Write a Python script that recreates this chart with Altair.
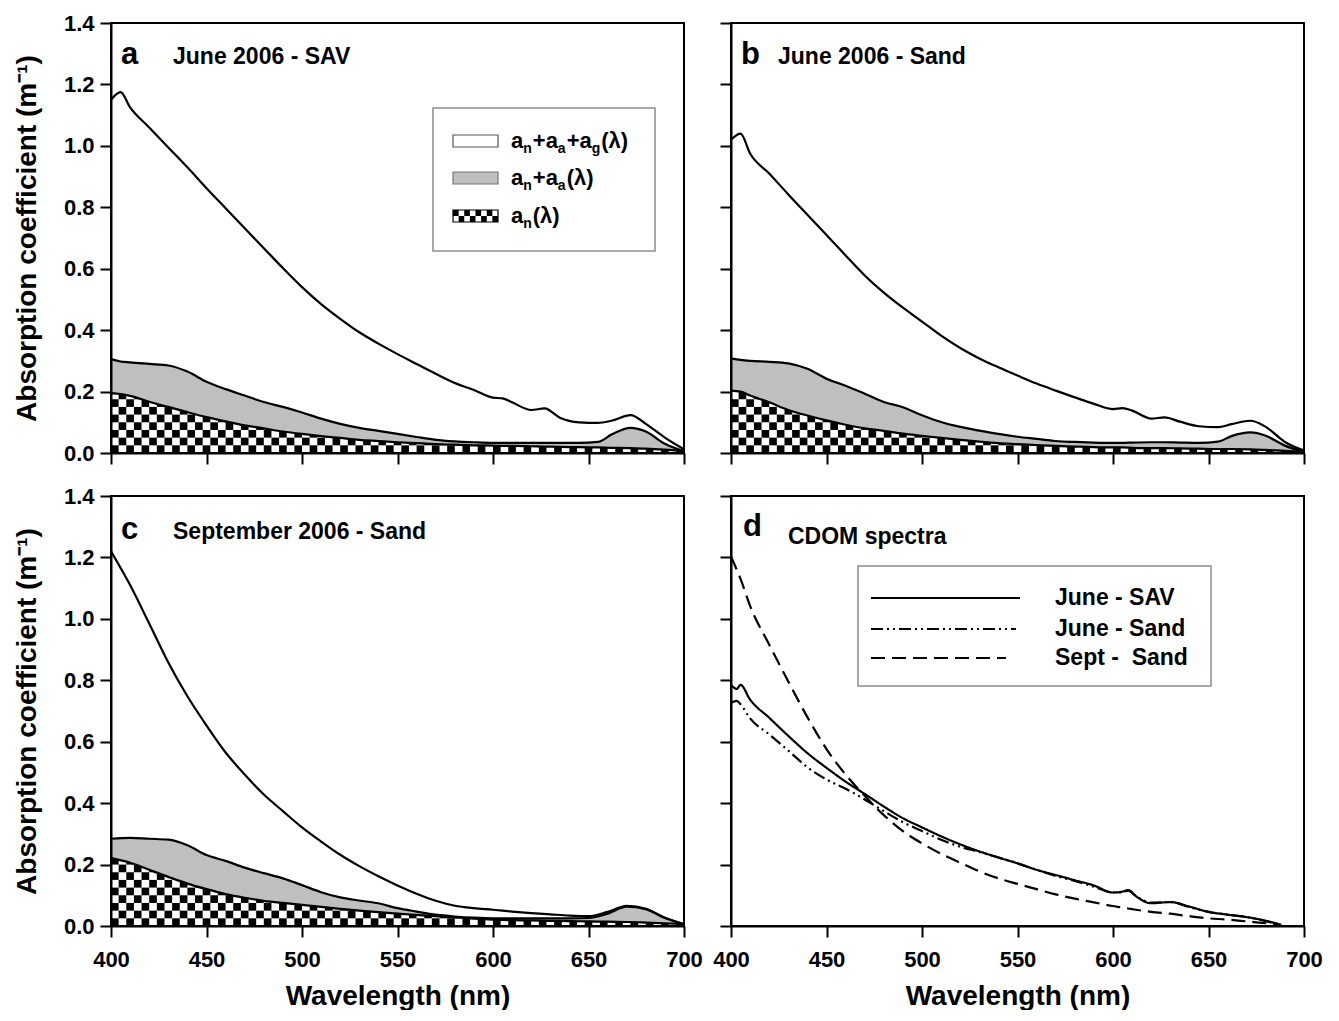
import altair as alt
import numpy as np
import pandas as pd

FONT = "Liberation Sans, Arial, Helvetica, sans-serif"
W, H = 573, 430
YMAX = 1.4
GRAY = "#bfbfbf"
LW = 2.2

# ---------------- data ----------------
wl_ab = [400, 405, 410, 420, 430, 440, 450, 460, 470, 480, 490, 500, 510, 520, 530, 540,
         550, 560, 570, 580, 590, 600, 605, 610, 620, 627, 635, 645, 655, 662, 672, 680, 690, 700]

a_total = [1.15, 1.175, 1.125, 1.06, 0.995, 0.93, 0.862, 0.797, 0.732, 0.667, 0.602, 0.54, 0.485, 0.437,
           0.393, 0.356, 0.322, 0.29, 0.258, 0.228, 0.205, 0.18, 0.178, 0.165, 0.14, 0.145, 0.115, 0.10,
           0.098, 0.105, 0.123, 0.095, 0.05, 0.012]
a_napa = [0.306, 0.298, 0.295, 0.29, 0.285, 0.265, 0.232, 0.208, 0.187, 0.166, 0.15, 0.132, 0.112, 0.095,
          0.082, 0.072, 0.062, 0.052, 0.043, 0.038, 0.035, 0.033, 0.033, 0.033, 0.033, 0.033, 0.033, 0.033,
          0.036, 0.06, 0.082, 0.07, 0.03, 0.006]
a_n = [0.195, 0.192, 0.186, 0.167, 0.15, 0.133, 0.117, 0.103, 0.09, 0.08, 0.07, 0.062, 0.055, 0.049,
       0.043, 0.039, 0.035, 0.032, 0.029, 0.027, 0.025, 0.024, 0.023, 0.023, 0.022, 0.021, 0.020, 0.019,
       0.018, 0.017, 0.016, 0.014, 0.011, 0.006]

b_total = [1.02, 1.04, 0.975, 0.91, 0.842, 0.776, 0.71, 0.643, 0.578, 0.522, 0.473, 0.428, 0.382, 0.342,
           0.308, 0.279, 0.252, 0.226, 0.203, 0.181, 0.16, 0.143, 0.146, 0.138, 0.112, 0.116, 0.102, 0.087,
           0.084, 0.094, 0.105, 0.085, 0.036, 0.008]
b_napa = [0.308, 0.303, 0.30, 0.297, 0.292, 0.274, 0.242, 0.219, 0.193, 0.166, 0.149, 0.123, 0.101, 0.085,
          0.073, 0.062, 0.053, 0.046, 0.039, 0.036, 0.034, 0.033, 0.033, 0.034, 0.035, 0.035, 0.034, 0.033,
          0.037, 0.055, 0.067, 0.056, 0.024, 0.004]
b_n = [0.203, 0.20, 0.187, 0.165, 0.14, 0.122, 0.106, 0.092, 0.08, 0.072, 0.063, 0.056, 0.049, 0.043,
       0.037, 0.032, 0.029, 0.026, 0.023, 0.021, 0.019, 0.018, 0.018, 0.017, 0.016, 0.016, 0.015, 0.014,
       0.013, 0.013, 0.012, 0.010, 0.007, 0.004]

wl_c = [400, 410, 420, 430, 440, 450, 460, 470, 480, 490, 500, 510, 520, 530, 540, 550, 560, 570,
        580, 590, 600, 610, 620, 630, 640, 650, 660, 670, 680, 690, 700]
c_total = [1.22, 1.11, 0.985, 0.858, 0.748, 0.653, 0.565, 0.493, 0.428, 0.374, 0.321, 0.275, 0.232, 0.195,
           0.162, 0.132, 0.105, 0.082, 0.066, 0.058, 0.053, 0.047, 0.042, 0.038, 0.034, 0.032, 0.046, 0.066,
           0.056, 0.026, 0.006]
c_napa = [0.284, 0.287, 0.284, 0.281, 0.263, 0.231, 0.212, 0.19, 0.172, 0.155, 0.133, 0.11, 0.093, 0.083,
          0.074, 0.058, 0.047, 0.037, 0.031, 0.027, 0.025, 0.025, 0.025, 0.025, 0.025, 0.026, 0.04, 0.063,
          0.055, 0.027, 0.006]
c_n = [0.221, 0.206, 0.183, 0.16, 0.138, 0.12, 0.104, 0.092, 0.082, 0.075, 0.069, 0.062, 0.056, 0.05,
       0.045, 0.04, 0.036, 0.032, 0.028, 0.024, 0.021, 0.019, 0.018, 0.017, 0.016, 0.015, 0.014, 0.013,
       0.011, 0.009, 0.006]

wl_d = [400, 403, 405, 410, 420, 430, 440, 450, 460, 470, 480, 490, 500, 510, 520, 530, 540, 550,
        560, 570, 580, 590, 600, 605, 608, 612, 620, 630, 640, 650, 660, 670, 680, 688]
d_june_sav = [0.785, 0.772, 0.785, 0.737, 0.678, 0.619, 0.563, 0.515, 0.47, 0.43, 0.389, 0.351, 0.321,
              0.292, 0.266, 0.243, 0.223, 0.204, 0.183, 0.166, 0.149, 0.132, 0.109, 0.112, 0.117, 0.097,
              0.074, 0.078, 0.063, 0.046, 0.037, 0.029, 0.017, 0.004]
d_june_sand = [0.727, 0.733, 0.722, 0.676, 0.624, 0.571, 0.517, 0.477, 0.447, 0.412, 0.374, 0.338, 0.309,
               0.281, 0.258, 0.241, 0.223, 0.204, 0.183, 0.163, 0.147, 0.128, 0.109, 0.11, 0.115, 0.098,
               0.076, 0.078, 0.062, 0.046, 0.037, 0.029, 0.016, 0.003]
d_sept_sand = [1.203, 1.16, 1.13, 1.042, 0.916, 0.796, 0.68, 0.576, 0.493, 0.424, 0.361, 0.309, 0.269,
               0.235, 0.206, 0.178, 0.155, 0.137, 0.12, 0.103, 0.089, 0.077, 0.065, 0.06, 0.057, 0.053,
               0.046, 0.04, 0.032, 0.025, 0.021, 0.015, 0.009, 0.004]

x_ticks = [400, 450, 500, 550, 600, 650, 700]
y_ticks = [0.0, 0.2, 0.4, 0.6, 0.8, 1.0, 1.2, 1.4]
d_series = ["June - SAV", "June - Sand", "Sept - \u00a0Sand"]
d_dashes = [[1, 0], [12, 4, 2, 4, 2, 4], [14, 7]]

# ---------------- helpers ----------------
XS = alt.Scale(domain=[400, 700], nice=False, zero=False)
YS = alt.Scale(domain=[0, YMAX], nice=False)
ONE = alt.Data(values=[{"k": 0}])
INTERP = "monotone"


def xaxis(show):
    if show:
        return alt.Axis(values=x_ticks, title="Wavelength (nm)", grid=False, zindex=1, labelFlush=False)
    return alt.Axis(values=x_ticks, labels=False, title=None, grid=False, zindex=1)


def yaxis(show):
    if show:
        return alt.Axis(values=y_ticks, format=".1f", title="Absorption coefficient (m\u207b\u00b9)",
                        grid=False, zindex=1, labelFlush=False)
    return alt.Axis(values=y_ticks, labels=False, title=None, grid=False, zindex=1)


def checker_cells(wl, an, dx=4.0, dy=0.025):
    rows = []
    for i, x0 in enumerate(np.arange(400.0, 700.0, dx)):
        top = float(np.interp(x0 + dx / 2, wl, an))
        j = 0
        while j * dy < top:
            if (i + j) % 2 == 0:
                rows.append({"x": x0, "x2": x0 + dx, "y": j * dy, "y2": (j + 1) * dy})
            j += 1
    return pd.DataFrame(rows)


def label_layers(letter, lx, ly, title, tx, ty):
    l1 = alt.Chart(ONE).mark_text(text=letter, align="left", baseline="alphabetic", fontSize=31,
                                  fontWeight="bold", font=FONT, color="black").encode(
        x=alt.value(lx), y=alt.value(ly))
    l2 = alt.Chart(ONE).mark_text(text=title, align="left", baseline="alphabetic", fontSize=23,
                                  fontWeight="bold", font=FONT, color="black").encode(
        x=alt.value(tx), y=alt.value(ty))
    return [l1, l2]


def frame():
    return alt.Chart(ONE).mark_rect(fillOpacity=0, stroke="black", strokeWidth=2).encode(
        x=alt.value(0), x2=alt.value(W), y=alt.value(0), y2=alt.value(H))


def stacked_panel(wl, total, napa, an, show_x, show_y, letter, title, tpos, extra=None):
    XA, YA = xaxis(show_x), yaxis(show_y)
    df = pd.DataFrame({"wl": wl, "total": total, "napa": napa, "an": an})
    cells = checker_cells(wl, an)
    base_cells = alt.Chart(cells).mark_rect(color="black", clip=True).encode(
        x=alt.X("x:Q", scale=XS, axis=XA),
        x2="x2:Q",
        y=alt.Y("y:Q", scale=YS, axis=YA),
        y2="y2:Q",
    )
    white = alt.Chart(df).mark_area(color="white", clip=True, interpolate=INTERP).encode(
        x=alt.X("wl:Q", scale=XS, axis=XA),
        y=alt.Y("an:Q", scale=YS, axis=YA),
        y2=alt.datum(YMAX),
    )
    gray = alt.Chart(df).mark_area(color=GRAY, clip=True, interpolate=INTERP).encode(
        x=alt.X("wl:Q", scale=XS, axis=XA),
        y=alt.Y("an:Q", scale=YS, axis=YA),
        y2="napa:Q",
    )
    long = df.melt(id_vars="wl", value_vars=["total", "napa", "an"], var_name="series", value_name="v")
    lines = alt.Chart(long).mark_line(color="black", strokeWidth=LW, clip=True, interpolate=INTERP).encode(
        x=alt.X("wl:Q", scale=XS, axis=XA),
        y=alt.Y("v:Q", scale=YS, axis=YA),
        detail="series:N",
    )
    layers = [base_cells, white, gray, lines]
    layers += label_layers(letter, *tpos[0], title, *tpos[1])
    if extra:
        layers += extra
    layers.append(frame())
    return alt.layer(*layers).properties(width=W, height=H)


# -------- legend for panel a --------
def rich_text(segments, x0, yb, big=22, small=14):
    widths = {"a": 0.556, "n": 0.611, "g": 0.611, "+": 0.584, "(": 0.333, ")": 0.333, "\u03bb": 0.556}
    out = []
    x = x0
    for txt, sub in segments:
        fs = small if sub else big
        y = yb + 5 if sub else yb
        out.append(alt.Chart(ONE).mark_text(text=txt, align="left", baseline="alphabetic", fontSize=fs,
                                            fontWeight="bold", font=FONT, color="black").encode(
            x=alt.value(x), y=alt.value(y)))
        x += sum(widths.get(c, 0.55) for c in txt) * fs + (1 if sub else 0)
    return out


def legend_a():
    bx0, bx1, by0, by1 = 322, 544, 85, 228
    parts = [alt.Chart(ONE).mark_rect(fill="white", stroke="#8c8c8c", strokeWidth=1.5).encode(
        x=alt.value(bx0), x2=alt.value(bx1), y=alt.value(by0), y2=alt.value(by1))]
    sx0, sx1 = 342, 387
    rows_y = [118, 155, 193]
    parts.append(alt.Chart(ONE).mark_rect(fill="white", stroke="#555555", strokeWidth=1.2).encode(
        x=alt.value(sx0), x2=alt.value(sx1), y=alt.value(rows_y[0] - 6), y2=alt.value(rows_y[0] + 6)))
    parts.append(alt.Chart(ONE).mark_rect(fill=GRAY, stroke="#777777", strokeWidth=1.2).encode(
        x=alt.value(sx0), x2=alt.value(sx1), y=alt.value(rows_y[1] - 6), y2=alt.value(rows_y[1] + 6)))
    parts.append(alt.Chart(ONE).mark_rect(fill="white", stroke="black", strokeWidth=1.2).encode(
        x=alt.value(sx0), x2=alt.value(sx1), y=alt.value(rows_y[2] - 6), y2=alt.value(rows_y[2] + 6)))
    cw = (sx1 - sx0) / 8.0
    for r in range(2):
        for c in range(8):
            if (r + c) % 2 == 0:
                parts.append(alt.Chart(ONE).mark_rect(fill="black").encode(
                    x=alt.value(sx0 + c * cw), x2=alt.value(sx0 + (c + 1) * cw),
                    y=alt.value(rows_y[2] - 6 + r * 6), y2=alt.value(rows_y[2] + r * 6)))
    tx = 400
    parts += rich_text([("a", 0), ("n", 1), ("+a", 0), ("a", 1), ("+a", 0), ("g", 1), ("(\u03bb)", 0)],
                       tx, rows_y[0] + 7)
    parts += rich_text([("a", 0), ("n", 1), ("+a", 0), ("a", 1), ("(\u03bb)", 0)], tx, rows_y[1] + 7)
    parts += rich_text([("a", 0), ("n", 1), ("(\u03bb)", 0)], tx, rows_y[2] + 7)
    return parts


def legend_d():
    parts = [alt.Chart(ONE).mark_rect(fill="white", stroke="#8c8c8c", strokeWidth=1.5).encode(
        x=alt.value(127), x2=alt.value(480), y=alt.value(70), y2=alt.value(190))]
    ys = [102, 133, 162]
    ends = [289, 285, 275]
    for name, dash, y, e in zip(d_series, d_dashes, ys, ends):
        parts.append(alt.Chart(ONE).mark_rule(color="black", strokeWidth=LW, strokeDash=dash).encode(
            x=alt.value(140), x2=alt.value(e), y=alt.value(y)))
        parts.append(alt.Chart(ONE).mark_text(text=name, align="left", baseline="middle", fontSize=23,
                                              fontWeight="bold", font=FONT, color="black").encode(
            x=alt.value(324), y=alt.value(y)))
    return parts


pa = stacked_panel(wl_ab, a_total, a_napa, a_n, False, True, "a", "June 2006 - SAV",
                   [(10, 41), (62, 41)], legend_a())
pb = stacked_panel(wl_ab, b_total, b_napa, b_n, False, False, "b", "June 2006 - Sand",
                   [(10, 41), (47, 41)])
pc = stacked_panel(wl_c, c_total, c_napa, c_n, True, True, "c", "September 2006 - Sand",
                   [(10, 43), (62, 43)])

# panel d
ddf = pd.DataFrame({"wl": wl_d, d_series[0]: d_june_sav, d_series[1]: d_june_sand, d_series[2]: d_sept_sand})
dlong = ddf.melt(id_vars="wl", var_name="series", value_name="v")
dlines = alt.Chart(dlong).mark_line(color="black", strokeWidth=LW, clip=True, interpolate=INTERP).encode(
    x=alt.X("wl:Q", scale=XS, axis=xaxis(True)),
    y=alt.Y("v:Q", scale=YS, axis=yaxis(False)),
    detail="series:N",
    strokeDash=alt.StrokeDash("series:N", scale=alt.Scale(domain=d_series, range=d_dashes), legend=None),
)
pd_layers = [dlines] + label_layers("d", 12, 40, "CDOM spectra", 57, 48) + legend_d() + [frame()]
pdd = alt.layer(*pd_layers).properties(width=W, height=H)

chart = alt.concat(pa, pb, pc, pdd, columns=2, spacing=alt.RowColnumber(row=43, column=47)).properties(
    bounds="flush", padding={"left": 5, "top": 4, "right": 2, "bottom": 0}
).configure_view(stroke=None).configure_axis(
    domainColor="black", domainWidth=2, tickColor="black", tickWidth=2, tickSize=11,
    labelFont=FONT, labelFontSize=22, labelFontWeight="bold", labelColor="black",
    titleFont=FONT, titleFontSize=28, titleFontWeight="bold", titleColor="black",
).configure_axisY(labelPadding=6, titlePadding=22).configure_axisX(labelPadding=12, titlePadding=12)

chart.save("out.html", embed_options={"renderer": "svg", "actions": False})
